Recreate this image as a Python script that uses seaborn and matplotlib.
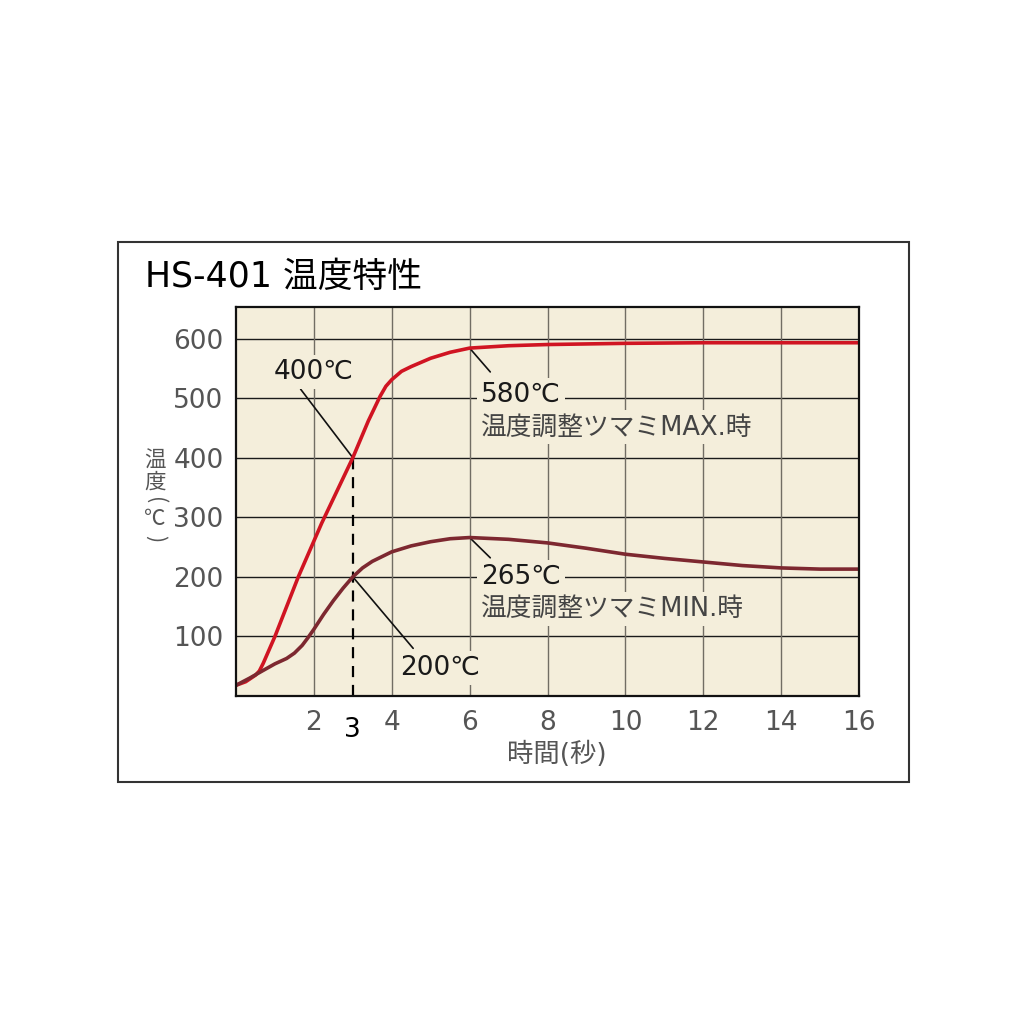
import numpy as np
import pandas as pd
import matplotlib
matplotlib.use("Agg")
import matplotlib.pyplot as plt
from matplotlib.patches import Rectangle
import seaborn as sns

# values (time in s, temperature in deg C)
max_time = [0, 0.25, 0.5, 0.6, 0.7, 0.8, 1.0, 1.6, 2.2, 3.0, 3.4, 3.7, 3.85, 4.0, 4.25, 4.5,
            5.0, 5.5, 6.0, 7, 8, 10, 12, 14, 16]
max_temp = [18, 24, 35, 42, 55, 70, 100, 200, 290, 400, 462, 503, 520, 531, 545, 553,
            567, 577, 584, 588, 590, 592, 593, 593, 593]

min_time = [0, 0.35, 0.7, 1.0, 1.3, 1.5, 1.7, 1.85, 2.0, 2.25, 2.5, 2.75, 3.0, 3.25,
            3.5, 4.0, 4.5, 5.0, 5.5, 6.0, 7, 8, 9, 10, 11, 12, 13, 14, 15, 16]
min_temp = [18, 30, 43, 54, 63, 72, 85, 98, 112, 137, 160, 181, 200, 215,
            226, 242, 252, 259, 264, 266, 263, 257, 248, 238, 231, 225, 219, 215, 213, 213]

x_ticks = [2, 4, 6, 8, 10, 12, 14, 16]
y_ticks = [100, 200, 300, 400, 500, 600]
marker_time = 3
marker_temps = [200, 400]

title = "HS-401 温度特性"
x_label = "時間(秒)"
# vertical label: glyph, rotation, pixel row
y_label_parts = [("温", 0, 461), ("度", 0, 483), ("(", -90, 501), ("℃", 0, 519), (")", -90, 539)]
max_label = "温度調整ツマミMAX.時"
min_label = "温度調整ツマミMIN.時"

df = pd.concat([
    pd.DataFrame({"time": max_time, "temp": max_temp, "series": "MAX"}),
    pd.DataFrame({"time": min_time, "temp": min_temp, "series": "MIN"}),
])

sns.set_theme(style="ticks")
plt.rcParams['font.family'] = ['DejaVu Sans', 'Noto Sans CJK JP']

cream = "#f4eedb"
red = "#d01422"
dark = "#7d2830"
gray = "#555555"

fig = plt.figure(figsize=(10.24, 10.24), dpi=100)
fig.patch.set_facecolor("white")
ax = fig.add_axes([236 / 1024, 1 - 696 / 1024, 623 / 1024, 389 / 1024])
ax.set_facecolor(cream)

# grid: black horizontals, grey verticals
for y in y_ticks:
    ax.axhline(y, color="#1a1a1a", lw=1.0, zorder=1)
for x in x_ticks[:-1]:
    ax.axvline(x, color="#716d64", lw=1.0, zorder=1)

sns.lineplot(data=df, x="time", y="temp", hue="series",
             palette={"MAX": red, "MIN": dark}, linewidth=2.6,
             legend=False, ax=ax, zorder=4, sort=False)

ax.plot([marker_time, marker_time], [0, max(marker_temps)], color="black",
        lw=1.6, ls=(0, (5, 3.5)), zorder=3)

ax.set_xlim(0, 16)
ax.set_ylim(0, 653)
ax.set_xticks(x_ticks)
ax.set_xticklabels([str(t) for t in x_ticks])
ax.set_xticks([marker_time], labels=[str(marker_time)], minor=True)
ax.set_yticks(y_ticks)
ax.set_yticklabels([str(t) for t in y_ticks])
ax.tick_params(axis="both", which="major", length=0, labelsize=19, labelcolor=gray)
ax.tick_params(axis="x", which="major", pad=10)
ax.tick_params(axis="y", which="major", pad=9)
ax.tick_params(axis="x", which="minor", length=0, labelsize=19, labelcolor="black", pad=15)
ax.set_xlabel("")
ax.set_ylabel("")
for s in ax.spines.values():
    s.set_color("#111111")
    s.set_linewidth(1.6)
    s.set_zorder(5)

box = dict(boxstyle="square,pad=0.15", facecolor=cream, edgecolor="none")
leader = dict(arrowstyle="-", color="#111111", lw=1.2, shrinkA=0, shrinkB=0)

# 400 C marker on MAX curve
ax.annotate("", xy=(marker_time, 400), xytext=(1.66, 515), arrowprops=leader, zorder=3)
ax.text(1.99, 544, "400℃", fontsize=19, color="#1a1a1a", ha="center", va="center",
        bbox=box, zorder=3)
# 200 C marker on MIN curve
ax.annotate("", xy=(marker_time, 200), xytext=(4.55, 80), arrowprops=leader, zorder=3)
ax.text(5.25, 47, "200℃", fontsize=19, color="#1a1a1a", ha="center", va="center",
        bbox=box, zorder=3)
# plateau labels
ax.annotate("", xy=(6.0, 584), xytext=(6.53, 544), arrowprops=leader, zorder=3)
ax.text(6.3, 505, "580℃", fontsize=19, color="#1a1a1a", ha="left", va="center",
        bbox=box, zorder=3)
ax.text(6.3, 451, max_label, fontsize=18.5, color="#444444", ha="left", va="center",
        bbox=box, zorder=3)
ax.annotate("", xy=(6.0, 266), xytext=(6.53, 232), arrowprops=leader, zorder=3)
ax.text(6.3, 200, "265℃", fontsize=19, color="#1a1a1a", ha="left", va="center",
        bbox=box, zorder=3)
ax.text(6.3, 146, min_label, fontsize=18.5, color="#444444", ha="left", va="center",
        bbox=box, zorder=3)

# titles and axis labels
fig.text(145 / 1024, 1 - 277 / 1024, title, fontsize=25, color="black",
         ha="left", va="center")
fig.text(557 / 1024, 1 - 755 / 1024, x_label, fontsize=19, color=gray,
         ha="center", va="center")
for ch, rot, py in y_label_parts:
    fig.text(155 / 1024, 1 - py / 1024, ch, fontsize=15.5, color=gray, rotation=rot,
             ha="center", va="center", family=['Noto Sans CJK JP', 'DejaVu Sans'])

# outer frame
fig.patches.append(Rectangle((118 / 1024, 1 - 782 / 1024), 791 / 1024, 540 / 1024,
                             transform=fig.transFigure, fill=False,
                             edgecolor="#333333", lw=1.5))

fig.savefig("out.png", dpi=100, facecolor="white")
